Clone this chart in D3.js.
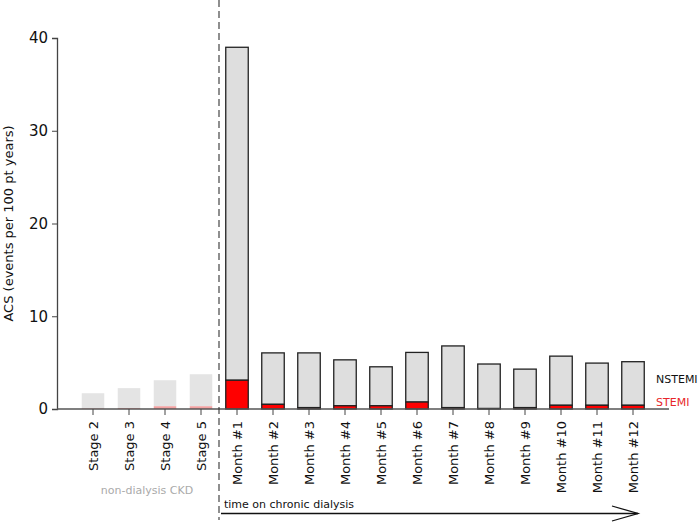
<!DOCTYPE html>
<html>
<head>
<meta charset="utf-8">
<script src="https://cdn.jsdelivr.net/npm/d3@7"></script>
<style>
  body { margin: 0; background: #fff; }
  text { font-family: "DejaVu Sans", Verdana, sans-serif; }
</style>
</head>
<body>
<svg id="chart" width="700" height="523"></svg>
<script>
// data
var categories = ["Stage 2", "Stage 3", "Stage 4", "Stage 5",
  "Month #1", "Month #2", "Month #3", "Month #4", "Month #5", "Month #6",
  "Month #7", "Month #8", "Month #9", "Month #10", "Month #11", "Month #12"];
var stemi   = [0.05, 0.1, 0.3, 0.3, 3.1, 0.5, 0.15, 0.35, 0.35, 0.75, 0.15, 0.05, 0.15, 0.4, 0.4, 0.4];
var nstemi  = [1.65, 2.15, 2.8, 3.45, 35.9, 5.55, 5.9, 4.95, 4.2, 5.35, 6.65, 4.8, 4.15, 5.3, 4.55, 4.7];
var dialysis = [false, false, false, false, true, true, true, true, true, true, true, true, true, true, true, true];
var yTicks = [0, 10, 20, 30, 40];

var svg = d3.select("#chart");
var axisLeft = 57, axisRight = 669, plotTop = 38, plotBottom = 409;

var x = d3.scaleBand()
  .domain(categories)
  .range([axisLeft + 18, axisRight - 18])
  .paddingInner(0.375)
  .paddingOuter(0.1875);

var y = d3.scaleLinear().domain([0, 40]).range([plotBottom, plotTop]);

var rows = categories.map(function(c, i) {
  return {name: c, stemi: stemi[i], nstemi: nstemi[i], dialysis: dialysis[i]};
});

// bars
var g = svg.append("g");
var bar = g.selectAll("g.bar").data(rows).enter().append("g").attr("class", "bar");

bar.append("rect")
  .attr("x", function(d) { return x(d.name); })
  .attr("width", x.bandwidth())
  .attr("y", function(d) { return y(d.stemi + d.nstemi); })
  .attr("height", function(d) { return y(d.stemi) - y(d.stemi + d.nstemi); })
  .attr("fill", function(d) { return d.dialysis ? "#dedede" : "#e4e4e4"; })
  .attr("stroke", function(d) { return d.dialysis ? "#222" : "none"; })
  .attr("stroke-width", 1.3);

bar.append("rect")
  .attr("x", function(d) { return x(d.name); })
  .attr("width", x.bandwidth())
  .attr("y", function(d) { return y(d.stemi); })
  .attr("height", function(d) { return y(0) - y(d.stemi); })
  .attr("fill", function(d) { return d.dialysis ? "#ff0000" : "#f2a2a2"; })
  .attr("stroke", function(d) { return d.dialysis ? "#222" : "none"; })
  .attr("stroke-width", 1.3);

// y axis
var yAxis = svg.append("g")
  .attr("transform", "translate(" + axisLeft + ",0)")
  .call(d3.axisLeft(y).tickValues(yTicks).tickSize(5).tickPadding(4));
yAxis.select(".domain").attr("stroke", "#444").attr("stroke-width", 1.3);
yAxis.selectAll(".tick line").attr("stroke", "#444");
yAxis.selectAll("text").attr("font-size", 15).attr("fill", "#111")
  .style("font-family", "DejaVu Sans, Verdana, sans-serif");

svg.append("text")
  .attr("transform", "translate(13," + ((plotTop + plotBottom) / 2) + ") rotate(-90)")
  .attr("text-anchor", "middle")
  .attr("font-size", 13)
  .attr("fill", "#111")
  .text("ACS (events per 100 pt years)");

// x axis
var xAxis = svg.append("g")
  .attr("transform", "translate(0," + plotBottom + ")")
  .call(d3.axisBottom(x).tickSize(6).tickSizeOuter(0).tickPadding(6));
xAxis.select(".domain").attr("stroke", "#555").attr("stroke-width", 1.5)
  .attr("d", "M" + axisLeft + ",0H" + axisRight);
xAxis.selectAll(".tick line").attr("stroke", "#444");
xAxis.selectAll("text")
  .attr("font-size", 13)
  .attr("fill", "#111")
  .style("font-family", "DejaVu Sans, Verdana, sans-serif")
  .attr("text-anchor", "end")
  .attr("transform", "rotate(-90)")
  .attr("x", -12)
  .attr("y", 0)
  .attr("dy", "0.35em");

// dashed separator
var sepX = (x("Stage 5") + x("Month #1") + x.bandwidth()) / 2;
svg.append("line")
  .attr("x1", sepX).attr("x2", sepX)
  .attr("y1", 0).attr("y2", 520)
  .attr("stroke", "#333")
  .attr("stroke-width", 1.1)
  .attr("stroke-dasharray", "7,4");

// legend
svg.append("text").attr("x", 656).attr("y", 383)
  .attr("font-size", 11).attr("fill", "#111").text("NSTEMI");
svg.append("text").attr("x", 656).attr("y", 406)
  .attr("font-size", 11).attr("fill", "#e8262b").text("STEMI");

// bottom annotations
svg.append("text")
  .attr("x", (x("Stage 2") + x("Stage 5") + x.bandwidth()) / 2)
  .attr("y", 494)
  .attr("text-anchor", "middle")
  .attr("font-size", 11)
  .attr("fill", "#aaa")
  .text("non-dialysis CKD");

svg.append("text")
  .attr("x", sepX + 5)
  .attr("y", 508)
  .attr("font-size", 11)
  .attr("fill", "#111")
  .text("time on chronic dialysis");

var arrowEnd = x("Month #12") + x.bandwidth() / 2 + 5;
svg.append("line")
  .attr("x1", sepX + 2).attr("x2", arrowEnd)
  .attr("y1", 513.5).attr("y2", 513.5)
  .attr("stroke", "#111").attr("stroke-width", 1.3);
svg.append("path")
  .attr("d", "M" + (arrowEnd - 26) + ",506L" + arrowEnd + ",513.5L" + (arrowEnd - 26) + ",521")
  .attr("fill", "none")
  .attr("stroke", "#111")
  .attr("stroke-width", 1.3);
</script>
</body>
</html>
